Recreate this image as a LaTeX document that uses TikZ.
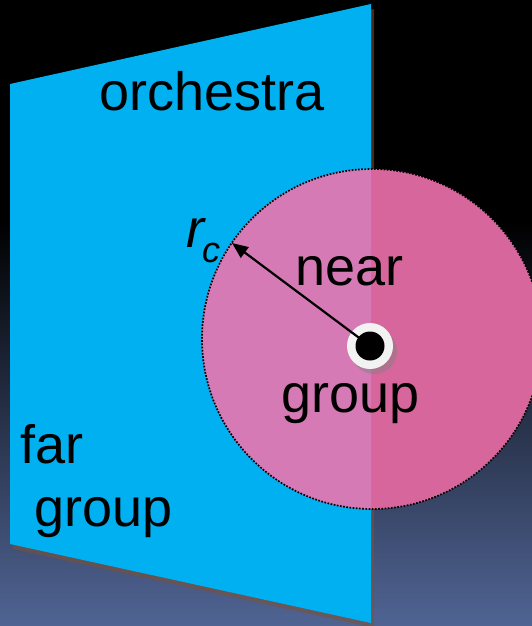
\documentclass[tikz,border=0pt]{standalone}
\usepackage{fontspec}
\setmainfont{Liberation Sans}
\usetikzlibrary{arrows.meta}
\definecolor{cyanp}{RGB}{0,176,240}
\definecolor{pinkl}{RGB}{214,122,182}
\definecolor{pinkd}{RGB}{214,102,155}
\definecolor{shadowc}{RGB}{128,80,48}
\definecolor{bgbot}{RGB}{80,100,148}
\definecolor{ringc}{RGB}{242,242,242}
\tikzset{
  lbl/.style={anchor=base west, inner sep=0pt, font=\fontsize{54}{60}\selectfont, text=black},
  sublbl/.style={anchor=base west, inner sep=0pt, font=\fontsize{36}{40}\selectfont\itshape, text=black},
}
\begin{document}
\begin{tikzpicture}[x=1pt,y=-1pt]
\useasboundingbox (0,0) rectangle (532,626);
% background
\fill[black] (0,0) rectangle (532,221);
\shade[top color=black, bottom color=bgbot] (0,220) rectangle (532,626);
% orchestra panel shadow and panel
\fill[shadowc, opacity=0.55] (13,89) -- (374,9) -- (374,628) -- (13,549) -- cycle;
\fill[cyanp] (10,84) -- (371,4) -- (371,623) -- (10,544) -- cycle;
% near circle
\coordinate (cc) at (372,339);
\fill[pinkd] (cc) circle[radius=170];
\begin{scope}
  \clip (0,0) rectangle (371,626);
  \fill[pinkl] (cc) circle[radius=170];
\end{scope}
\draw[line width=1.7pt, dash pattern=on 1.7pt off 1.5pt] (cc) circle[radius=170];
% texts
\node[lbl] (orch) at (99,110) {orchestra};
\node[lbl] (near) at (295,285) {near};
\node[lbl] (ngroup) at (281,412) {group};
\node[lbl] (far) at (20,463) {far};
\node[lbl] (fgroup) at (34,526) {group};
\node[lbl, font=\fontsize{54}{60}\selectfont\itshape] (r) at (186,247) {r};
\node[sublbl] (c) at (202,262) {c};
% centre dot
\fill[gray, opacity=0.45] (374,351) circle[radius=23];
\node[circle, fill=ringc, minimum size=46pt, inner sep=0pt] (ring) at (370,346) {};
\coordinate (tip) at (232,243);
\draw[line width=2.2pt, -{Triangle[length=16pt, width=13pt]}] (ring.center) -- (tip);
\node[circle, fill=black, minimum size=29pt, inner sep=0pt] (dot) at (ring.center) {};
\end{tikzpicture}
\end{document}
